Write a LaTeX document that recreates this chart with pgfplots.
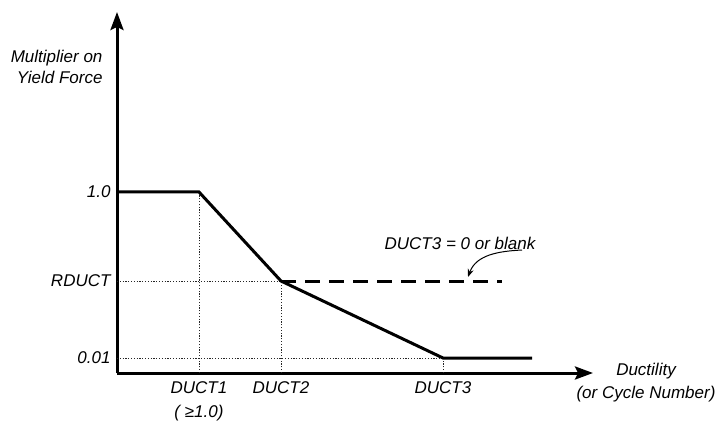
\documentclass[border=0pt]{standalone}
\usepackage{pgfplots}
\pgfplotsset{compat=1.18}
\usepackage{fontspec}
\setmainfont{Liberation Sans}
\usetikzlibrary{arrows.meta}
\newcommand{\lf}{\fontsize{17bp}{21bp}\selectfont\itshape}
\newcommand{\lfx}{\fontsize{17bp}{24bp}\selectfont\itshape}
\begin{document}
\begin{tikzpicture}[x=1bp,y=1bp]
\useasboundingbox (0,0) rectangle (718,423);
\begin{axis}[
  at={(117bp,50bp)}, anchor=south west,
  scale only axis, width=476bp, height=361bp,
  xmin=0, xmax=476, ymin=0, ymax=361,
  clip=false,
  axis lines=left,
  axis line style={line width=3bp, -{Stealth[length=18bp,width=13bp,inset=3bp]}},
  xtick={82,164,326},
  xticklabels={{DUCT1\\( ≥1.0)},DUCT2,DUCT3},
  ytick={15,92,181},
  yticklabels={0.01,RDUCT,1.0},
  major tick length=0,
  tick label style={font=\lf},
  xticklabel style={font=\lfx, align=center, yshift=-5bp},
  yticklabel style={xshift=-3bp},
]
\addplot[black!85, line width=0.9bp, dash pattern=on 1.2bp off 1.6bp] coordinates {(0,92) (164,92)};
\addplot[black!85, line width=0.9bp, dash pattern=on 1.2bp off 1.6bp] coordinates {(0,15) (326,15)};
\addplot[black!85, line width=0.9bp, dash pattern=on 1.2bp off 1.6bp] coordinates {(82,0) (82,181)};
\addplot[black!85, line width=0.9bp, dash pattern=on 1.2bp off 1.6bp] coordinates {(164,0) (164,92)};
\addplot[black!85, line width=0.9bp, dash pattern=on 1.2bp off 1.6bp] coordinates {(326,0) (326,15)};
\addplot[black, line width=3bp, dash pattern=on 15bp off 9bp] coordinates {(164,92) (385,92)};
\addplot[black, line width=3bp, line join=miter] coordinates {(0,181) (82,181) (164,92) (326,15) (415,15)};
\draw[line width=1bp, -{Stealth[length=8bp,width=6bp]}] (axis cs:405,123) to[out=183,in=70] (axis cs:351,96);
\node[font=\lf, anchor=east, align=right] at (axis cs:-11,306.5) {Multiplier on\\Yield Force};
\node[font=\fontsize{17bp}{23bp}\selectfont\itshape, align=center] at (axis cs:529,-9.5) {Ductility\\(or Cycle Number)};
\node[font=\lf] at (axis cs:343,130) {DUCT3 = 0 or blank};
\end{axis}
\end{tikzpicture}
\end{document}
